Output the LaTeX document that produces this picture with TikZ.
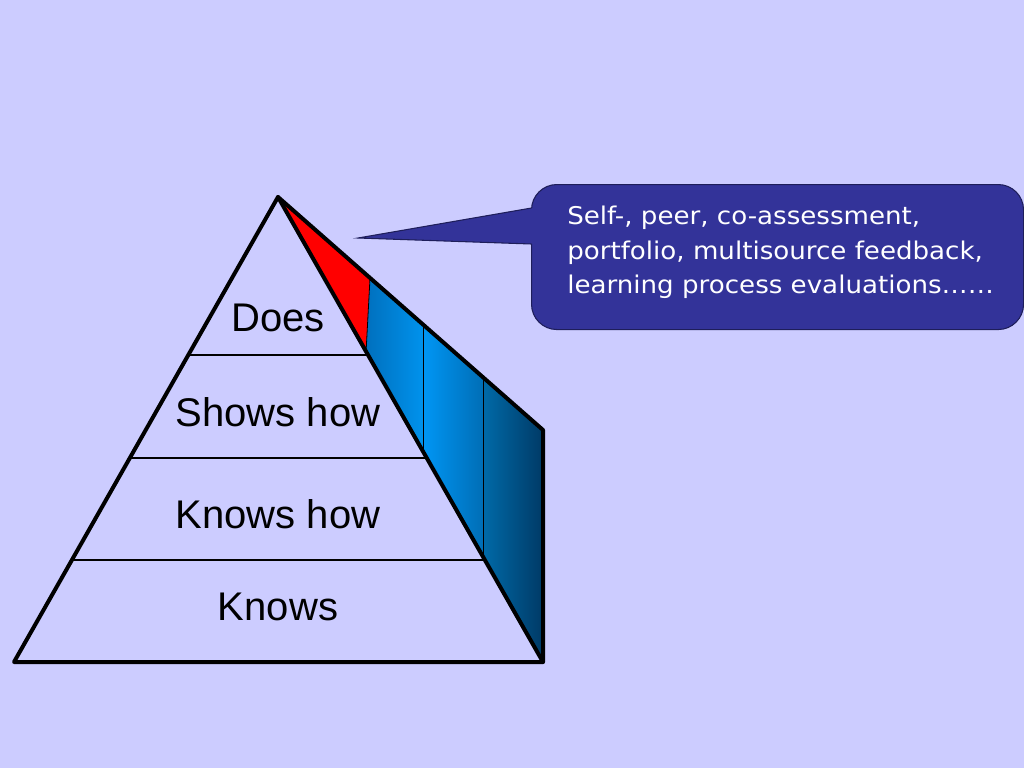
\documentclass[tikz,border=0pt]{standalone}
\usepackage{fontspec}
\setmainfont{Liberation Sans}
\newfontfamily\calloutfont[FakeStretch=1.07]{DejaVu Sans}
\definecolor{bgcol}{HTML}{CCCCFF}
\definecolor{callfill}{HTML}{333399}
\definecolor{callline}{HTML}{1E1E5A}
\begin{document}
\begin{tikzpicture}[x=0.75pt,y=-0.75pt,
  thickline/.style={line width=3pt,line join=round,line cap=round},
  thinline/.style={line width=1.5pt},
  panelline/.style={line width=0.6pt,draw=black},
  level/.style={font=\fontsize{30pt}{36pt}\selectfont,inner sep=0pt},
  callbox/.style={fill=callfill,draw=callline,line width=0.8pt,rounded corners=19pt,
    minimum width=369pt,minimum height=108.75pt,anchor=north west,inner sep=0pt},
  calltext/.style={text=white,font=\calloutfont\fontsize{18.3pt}{25.8pt}\selectfont,
    align=left,anchor=north west,inner sep=0pt}]
\fill[bgcol] (0,0) rectangle (1024,768);
\useasboundingbox (0,0) rectangle (1024,768);
% pyramid points
\coordinate (apex) at (278,197);
\coordinate (bl) at (14,662);
\coordinate (br) at (543,662);
\coordinate (tr) at (543,430);
% side band
\coordinate (r1t) at (370,278);
\coordinate (r1b) at (366,353);
\coordinate (p2t) at (423,324.5);
\coordinate (p2b) at (423,452);
\coordinate (p3t) at (483,377);
\coordinate (p3b) at (483,558);
\fill[red] (apex) -- (r1t) -- (r1b) -- cycle;
\shade[left color={rgb,255:red,0;green,112;blue,190},right color={rgb,255:red,0;green,146;blue,236}]
  (r1t) -- (p2t) -- (p2b) -- (r1b) -- cycle;
\shade[left color={rgb,255:red,0;green,150;blue,244},right color={rgb,255:red,0;green,110;blue,182}]
  (p2t) -- (p3t) -- (p3b) -- (p2b) -- cycle;
\shade[left color={rgb,255:red,0;green,106;blue,168},right color={rgb,255:red,0;green,58;blue,102}]
  (p3t) -- (tr) -- (br) -- (p3b) -- cycle;
\draw[panelline] (r1t) -- (r1b);
\draw[panelline] (p2t) -- (p2b);
\draw[panelline] (p3t) -- (p3b);
% level lines
\draw[thinline] (188,355) -- (368,355);
\draw[thinline] (130,458) -- (426,458);
\draw[thinline] (72,560) -- (484,560);
\draw[thickline] (apex) -- (bl) -- (br) -- cycle;
\draw[thickline] (apex) -- (tr) -- (br);
% labels
\node[level] (does) at (278,318) {Does};
\node[level] (shows) at (278,412) {Shows how};
\node[level] (knowshow) at (278,514) {Knows how};
\node[level] (knows) at (278,607) {Knows};
% callout
\node[callbox] (cb) at (531,184) {};
\coordinate (tip) at (358,238);
\coordinate (pt) at (531.5,208);
\coordinate (pb) at (531.5,244);
\fill[callfill] (pt) -- (tip) -- (pb) -- ([xshift=3pt]pb) -- ([xshift=3pt]pt) -- cycle;
\draw[callline,line width=0.8pt] (pt) -- (tip) -- (pb);
\node[calltext] (ctext) at (567,206) {Self-, peer, co-assessment,\\portfolio, multisource feedback,\\learning process evaluations\ldots\ldots};
\end{tikzpicture}
\end{document}
